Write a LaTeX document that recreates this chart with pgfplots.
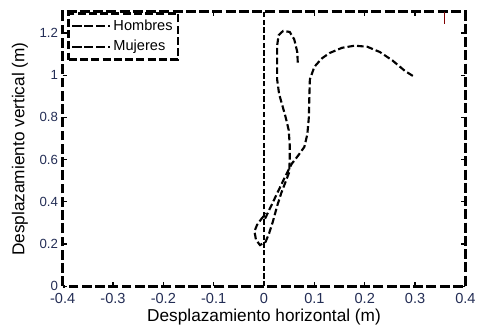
\documentclass[border=0pt]{standalone}
\usepackage{pgfplots}
\pgfplotsset{compat=1.18}
\usepackage{fontspec}
\setmainfont{Liberation Sans}
\definecolor{ticknavy}{RGB}{35,45,85}
\begin{document}
\begin{tikzpicture}
\begin{axis}[
  scale only axis,
  width=304pt, height=207pt,
  xmin=-0.4, xmax=0.4, ymin=0, ymax=1.3,
  xtick={-0.4,-0.3,...,0.4},
  ytick={0,0.2,0.4,0.6,0.8,1,1.2},
  xticklabels={-0.4,-0.3,-0.2,-0.1,0,0.1,0.2,0.3,0.4},
  yticklabels={0,0.2,0.4,0.6,0.8,1,1.2},
  tick align=inside,
  major tick length=3pt,
  tick style={black, line width=1pt, solid},
  axis line style={black, line width=2.2pt, dash pattern=on 7.5pt off 2.5pt},
  ticklabel style={text=ticknavy},
  xticklabel style={font=\fontsize{11}{12}\selectfont, yshift=-1.5pt},
  yticklabel style={font=\fontsize{10}{11}\selectfont},
  xlabel={Desplazamiento horizontal (m)},
  ylabel={Desplazamiento vertical (m)},
  label style={font=\fontsize{13}{15}\selectfont},
  xlabel style={at={(axis description cs:0.5,-0.112)}, anchor=center},
  ylabel style={at={(axis description cs:-0.106,0.5)}, anchor=center, rotate=0},
  legend style={at={(0.012,1)}, anchor=north west, font=\fontsize{11}{12}\selectfont,
    draw=black, line width=2pt, dash pattern=on 6pt off 2.5pt, fill=white,
    inner xsep=2pt, inner ysep=3pt, row sep=2pt, legend cell align=left},
  legend image code/.code={\draw[black, solid, line width=1.3pt, dash pattern=on 7pt off 2pt] (0cm,0cm) -- (1.0cm,0cm);},
  every axis plot/.append style={line width=1.6pt, dash pattern=on 5pt off 2.3pt, black},
]
\addplot[black] coordinates {
(0.002,0.32) (0.010,0.36) (0.020,0.41) (0.030,0.46) (0.042,0.52) (0.055,0.58)
(0.068,0.62) (0.080,0.66) (0.086,0.72) (0.089,0.80) (0.090,0.90) (0.091,0.98)
(0.100,1.04) (0.115,1.08) (0.130,1.105) (0.155,1.13) (0.180,1.14) (0.205,1.135)
(0.230,1.11) (0.255,1.07) (0.280,1.02) (0.300,0.99)};
\addlegendentry{Hombres}
\addplot[black] coordinates {
(0.067,1.06) (0.066,1.11) (0.060,1.17) (0.051,1.205) (0.038,1.21) (0.029,1.19)
(0.026,1.14) (0.026,1.07) (0.026,0.98) (0.030,0.91) (0.036,0.86) (0.043,0.80)
(0.049,0.74) (0.051,0.67) (0.051,0.60) (0.050,0.54) (0.042,0.49) (0.034,0.44)
(0.026,0.38) (0.018,0.31) (0.010,0.25) (0.003,0.21) (-0.008,0.195) (-0.016,0.22)
(-0.019,0.26) (-0.014,0.29) (-0.005,0.32) (0.004,0.345)};
\addlegendentry{Mujeres}
\addplot[black, line width=1pt, dash pattern=on 4pt off 1.8pt, forget plot] coordinates {(0,0) (0,1.3)};
\addplot[red!50!black, line width=0.8pt, solid, forget plot] coordinates {(0.358,1.3) (0.358,1.245)};
\end{axis}
\path (current axis.south west) ++(-47.25pt,-37.5pt) (current axis.north east) ++(9pt,9pt);
\end{tikzpicture}
\end{document}
